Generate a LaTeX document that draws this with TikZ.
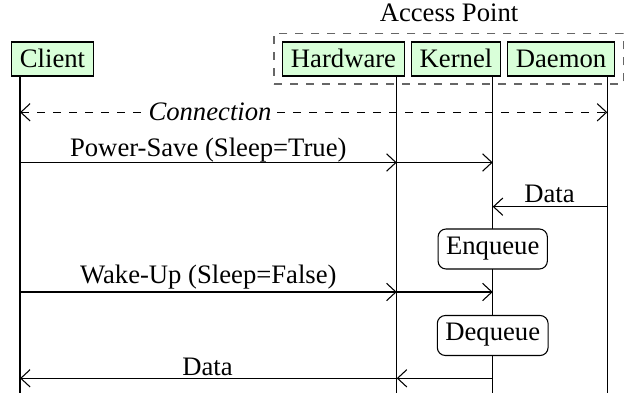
\documentclass[tikz,border=0pt]{standalone}
\usepackage{fontspec}
\setmainfont{Liberation Serif}
\usetikzlibrary{arrows.meta}
\begin{document}
\begin{tikzpicture}[x=0.375pt,y=-0.375pt,
  actor/.style={draw, fill=green!15, line width=0.4pt, inner xsep=3pt, inner ysep=0pt,
    minimum height=12.75pt, text height=7pt, text depth=0.5pt},
  proc/.style={draw, rounded corners=3pt, fill=white, line width=0.4pt, inner xsep=3pt,
    inner ysep=0pt, minimum height=15pt, text height=6.8pt, text depth=2.8pt},
  group/.style={draw=black!60, dashed, line width=0.6pt, inner sep=0pt},
  life/.style={line width=0.4pt},
  tip/.tip={Straight Barb[length=3.5pt,width=6.5pt]},
  msg/.style={line width=0.4pt, -tip},
  lbl/.style={anchor=base, inner sep=0pt}]
\useasboundingbox (0,0) rectangle (626,393);

% group box
\node[group, minimum width=130.9pt, minimum height=19.1pt] (ap) at (448.8,58.8) {};
\node[lbl] (aplabel) at (449,21.7) {Access Point};

% lifeline ends
\coordinate (cT) at (20,76);   \coordinate (cB) at (20,393);
\coordinate (hT) at (396.7,76); \coordinate (hB) at (396.7,393);
\coordinate (kT) at (492.7,76); \coordinate (kB) at (492.7,393);
\coordinate (dT) at (607.3,76); \coordinate (dB) at (607.3,393);
\draw[life] (cT) -- (cB);
\draw[life] (hT) -- (hB);
\draw[life] (kT) -- (kB);
\draw[life] (dT) -- (dB);

% actors
\node[actor] (client) at (52.5,59) {Client};
\node[actor] (hw) at (343.5,59) {Hardware};
\node[actor] (kernel) at (456,59) {Kernel};
\node[actor] (daemon) at (561,59) {Daemon};

% connection
\coordinate (con1) at (20,112.3);
\coordinate (con2) at (607.3,112.3);
\draw[line width=0.4pt, dashed, tip-tip] (con1) -- (con2);
\node[lbl, fill=white, inner xsep=2pt, inner ysep=1.5pt] (conlbl) at (210,120.5) {\itshape Connection};

% power-save
\coordinate (ps1) at (20,162.5);
\coordinate (ps2) at (396.7,162.5);
\coordinate (ps3) at (492.7,162.5);
\draw[msg] (ps1) -- (ps2);
\draw[msg] (ps2) -- (ps3);
\node[lbl] (pslbl) at (208.3,156.7) {Power-Save (Sleep=True)};

% data from daemon
\coordinate (d1) at (607.3,206.7);
\coordinate (d2) at (492.7,206.7);
\draw[msg] (d1) -- (d2);
\node[lbl] (d1lbl) at (549.5,202.3) {Data};

% enqueue
\node[proc] (enq) at (492.7,249) {Enqueue};

% wake-up
\coordinate (wu1) at (20,292);
\coordinate (wu2) at (396.7,292);
\coordinate (wu3) at (492.7,292);
\draw[msg] (wu1) -- (wu2);
\draw[msg] (wu2) -- (wu3);
\node[lbl] (wulbl) at (208.3,284) {Wake-Up (Sleep=False)};

% dequeue
\node[proc] (deq) at (492.7,335.5) {Dequeue};

% data to client
\coordinate (r1) at (492.7,378.3);
\coordinate (r2) at (396.7,378.3);
\coordinate (r3) at (20,378.3);
\draw[msg] (r1) -- (r2);
\draw[msg] (r2) -- (r3);
\node[lbl] (r2lbl) at (207.5,375.7) {Data};
\end{tikzpicture}
\end{document}
